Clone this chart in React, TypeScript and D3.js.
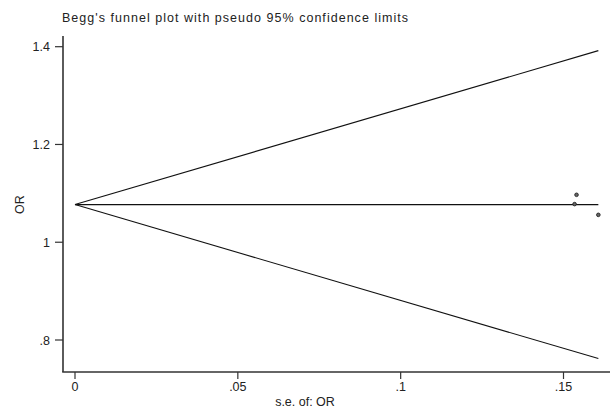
import React from "react";
import * as d3 from "d3";

const seValues = [0.154, 0.1534, 0.1607];
const orValues = [1.097, 1.078, 1.056];
const pooled = 1.077;
const xTicks = [0, 0.05, 0.1, 0.15];
const xTickLabels = ["0", ".05", ".1", ".15"];
const yTicks = [0.8, 1, 1.2, 1.4];
const yTickLabels = [".8", "1", "1.2", "1.4"];

export default function App() {
  const W = 610, H = 407;
  const x = d3.scaleLinear().domain([0, 0.15]).range([75, 563.5]);
  const y = d3.scaleLinear().domain([0.8, 1.4]).range([340, 46.7]);
  const maxSe = d3.max(seValues) as number;
  const z = 1.96;
  const line = d3.line<[number, number]>().x(d => x(d[0])).y(d => y(d[1]));
  const upper: [number, number][] = [[0, pooled], [maxSe, pooled + z * maxSe]];
  const lower: [number, number][] = [[0, pooled], [maxSe, pooled - z * maxSe]];
  const mid: [number, number][] = [[0, pooled], [maxSe, pooled]];
  const font = "Liberation Sans, Arial, sans-serif";
  const axisColor = "#333";
  return (
    <svg width={W} height={H} style={{ position: "absolute", left: 0, top: 0, background: "#fff" }} fontFamily={font}>
      <text x={62} y={22} fontSize={12.5} fill="#222" textLength={346} lengthAdjust="spacing">Begg's funnel plot with pseudo 95% confidence limits</text>
      {/* axes */}
      <line x1={63} y1={36} x2={63} y2={372} stroke={axisColor} strokeWidth={1.6} />
      <line x1={62.2} y1={372} x2={610} y2={372} stroke={axisColor} strokeWidth={1.6} />
      {yTicks.map((t, i) => (
        <g key={"y" + i}>
          <line x1={55} x2={63} y1={y(t)} y2={y(t)} stroke={axisColor} strokeWidth={1.2} />
          <text x={50} y={y(t) + 4.5} textAnchor="end" fontSize={12.5} fill="#222">{yTickLabels[i]}</text>
        </g>
      ))}
      {xTicks.map((t, i) => (
        <g key={"x" + i}>
          <line x1={x(t)} x2={x(t)} y1={372} y2={379} stroke={axisColor} strokeWidth={1.2} />
          <text x={x(t)} y={390.5} textAnchor="middle" fontSize={12.5} fill="#222">{xTickLabels[i]}</text>
        </g>
      ))}
      <text x={305} y={405.5} textAnchor="middle" fontSize={12.5} fill="#222">s.e. of: OR</text>
      <text transform={`translate(24,${y(pooled)}) rotate(-90)`} textAnchor="middle" fontSize={12.5} fill="#222">OR</text>
      {/* funnel */}
      <path d={line(upper) as string} stroke="#111" strokeWidth={1.1} fill="none" />
      <path d={line(lower) as string} stroke="#111" strokeWidth={1.1} fill="none" />
      <path d={line(mid) as string} stroke="#111" strokeWidth={1.1} fill="none" />
      {seValues.map((s, i) => (
        <circle key={"p" + i} cx={x(s)} cy={y(orValues[i])} r={1.8} fill="#666" stroke="#222" strokeWidth={0.9} />
      ))}
    </svg>
  );
}
